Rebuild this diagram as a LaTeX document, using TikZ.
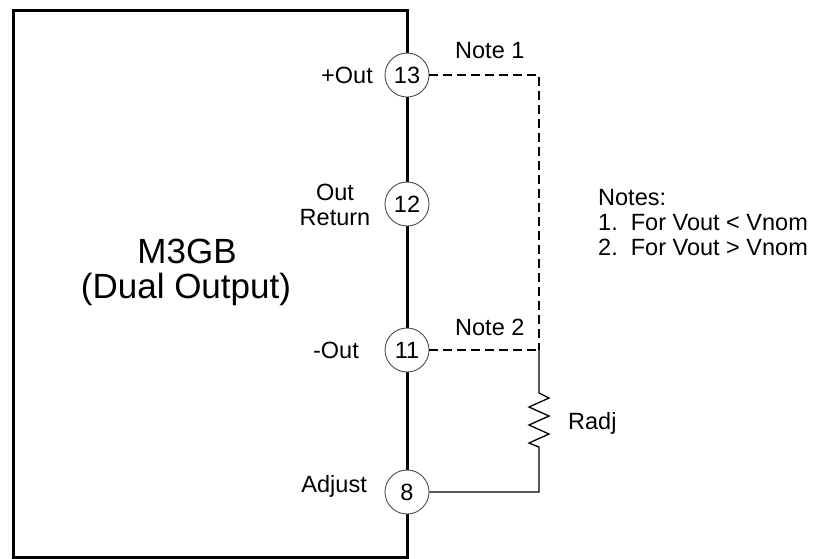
\documentclass[tikz,border=0pt]{standalone}
\usepackage{fontspec}
\setmainfont{Liberation Sans}
\begin{document}
\begin{tikzpicture}[x=1pt,y=-1pt,
  pin/.style={draw=black!70,circle,minimum size=44pt,inner sep=0pt,fill=white,line width=0.9pt},
  lbl/.style={font=\fontsize{23.5}{25}\selectfont,inner sep=0pt},
  ttl/.style={font=\fontsize{35}{35}\selectfont,inner sep=0pt},
  wire/.style={line width=1.3pt},
  dwire/.style={line width=1.6pt,dash pattern=on 9pt off 5pt}]
\useasboundingbox (0,0) rectangle (816,558);

% module outline
\draw[line width=3pt] (407,10) -- (13,10) -- (13,557) -- (407,557) -- cycle;
\node[ttl] (t1) at (187,251) {M3GB};
\node[ttl] (t2) at (186,289) {(Dual Output)};

% pins
\node[pin,lbl] (p13) at (407,75) {13};
\node[pin,lbl] (p12) at (407,204) {12};
\node[pin,lbl] (p11) at (407,350) {11};
\node[pin,lbl] (p8) at (407,492) {8};

\node[lbl,anchor=east] (lout) at (373,75) {+Out};
\node[lbl,align=center] (lret) at (335,205) {Out\\Return};
\node[lbl,anchor=east] (lneg) at (359,350) {-Out};
\node[lbl,anchor=east] (ladj) at (367,486) {Adjust};

% external wiring
\coordinate (c1) at (539,75);
\coordinate (c2) at (539,350);
\coordinate (rtop) at (539,393);
\coordinate (rbot) at (539,447);
\coordinate (c3) at (539,492);

\draw[dwire] (p13) -- (c1) -- (c2);
\draw[dwire] (p11) -- (c2);
\draw[wire] (c2) -- (rtop) -- ++(10,5) -- ++(-20,9) -- ++(20,9) -- ++(-20,9)
  -- ++(20,9) -- ++(-20,9) -- (rbot) -- (c3) -- (p8);

\node[lbl,anchor=west] (n1) at (455,51) {Note 1};
\node[lbl,anchor=west] (n2) at (455,327) {Note 2};
\node[lbl,anchor=west] (radj) at (568,423) {Radj};

\node[lbl,anchor=west,align=left] (notes) at (598,223) {Notes:\\1.\ \ For Vout < Vnom\\2.\ \ For Vout > Vnom};
\end{tikzpicture}
\end{document}
